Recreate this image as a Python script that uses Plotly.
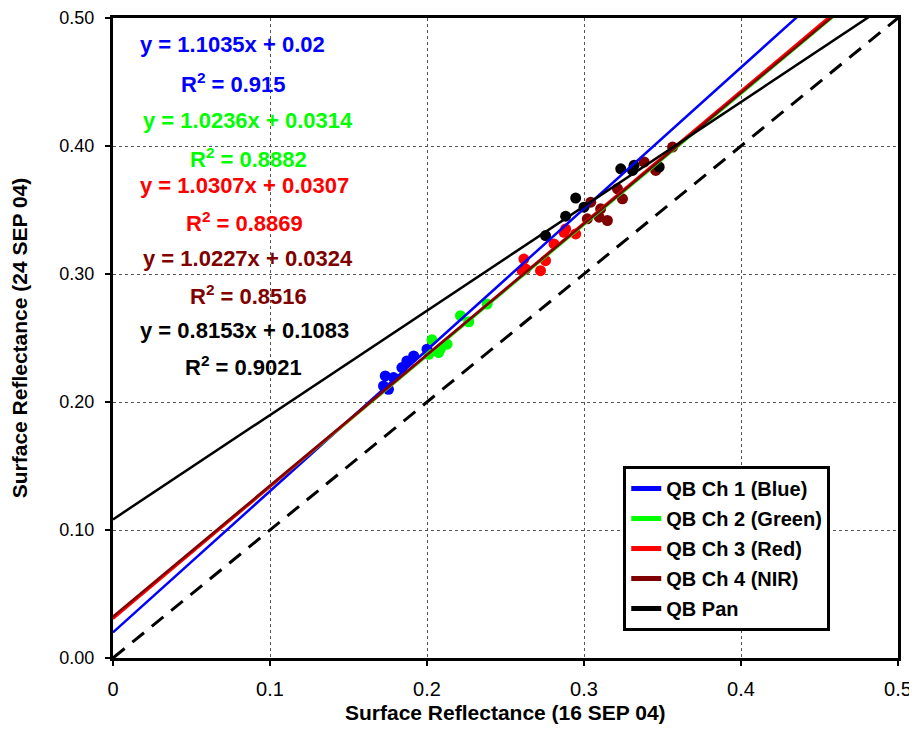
import plotly.graph_objects as go
import numpy as np

# ---- data ----
blue_x = [0.1723, 0.1734, 0.1755, 0.1787, 0.1840, 0.1872, 0.1915, 0.2000]
blue_y = [0.2125, 0.2204, 0.2099, 0.2191, 0.2269, 0.2321, 0.2360, 0.2413]

green_x = [0.2011, 0.2032, 0.2074, 0.2085, 0.2128, 0.2213, 0.2266, 0.2383]
green_y = [0.2373, 0.2486, 0.2386, 0.2413, 0.2452, 0.2674, 0.2627, 0.2765]

red_x = [0.2606, 0.2617, 0.2628, 0.2723, 0.2755, 0.2809, 0.2872, 0.2883, 0.2947]
red_y = [0.3026, 0.3117, 0.3039, 0.3026, 0.3104, 0.3235, 0.3326, 0.3352, 0.3313]

nir_x = [0.3021, 0.3043, 0.3096, 0.3106, 0.3149, 0.3213, 0.3245, 0.3383, 0.3457, 0.3564]
nir_y = [0.3431, 0.3561, 0.3444, 0.3509, 0.3418, 0.3666, 0.3587, 0.3875, 0.3809, 0.3992]

pan_x = [0.2755, 0.2883, 0.2947, 0.3000, 0.3234, 0.3309, 0.3319, 0.3479]
pan_y = [0.3300, 0.3452, 0.3593, 0.3522, 0.3822, 0.3809, 0.3849, 0.3836]

series_names = ["QB Ch 1 (Blue)", "QB Ch 2 (Green)", "QB Ch 3 (Red)", "QB Ch 4 (NIR)", "QB Pan"]
slopes = [1.1035, 1.0236, 1.0307, 1.0227, 0.8153]
intercepts = [0.02, 0.0314, 0.0307, 0.0324, 0.1083]
r2_values = ["0.915", "0.8882", "0.8869", "0.8516", "0.9021"]
eq_texts = ["y = 1.1035x + 0.02", "y = 1.0236x + 0.0314", "y = 1.0307x + 0.0307",
            "y = 1.0227x + 0.0324", "y = 0.8153x + 0.1083"]

x_ticks = [0, 0.1, 0.2, 0.3, 0.4, 0.5]
x_tick_labels = ["0", "0.1", "0.2", "0.3", "0.4", "0.5"]
y_ticks = [0, 0.1, 0.2, 0.3, 0.4, 0.5]
y_tick_labels = ["0.00", "0.10", "0.20", "0.30", "0.40", "0.50"]

x_title = "Surface Reflectance (16 SEP 04)"
y_title = "Surface Reflectance (24 SEP 04)"

colors = ["#0000FF", "#00FF00", "#FF0000", "#800000", "#000000"]
xs = [blue_x, green_x, red_x, nir_x, pan_x]
ys = [blue_y, green_y, red_y, nir_y, pan_y]

FONT = "Arial, Liberation Sans, sans-serif"

fig = go.Figure()

# scatter points
for i in range(5):
    fig.add_trace(go.Scatter(x=xs[i], y=ys[i], mode="markers",
                             marker=dict(color=colors[i], size=11, line=dict(width=0)),
                             showlegend=False, hoverinfo="x+y"))

# 1:1 dashed line
fig.add_trace(go.Scatter(x=[0, 0.5], y=[0, 0.5], mode="lines",
                         line=dict(color="black", width=3, dash="15px,10px"),
                         showlegend=False))

# regression lines
line_x = np.array([0.0, 0.5])
for i in range(5):
    fig.add_trace(go.Scatter(x=line_x, y=slopes[i] * line_x + intercepts[i], mode="lines",
                             line=dict(color=colors[i], width=2.5),
                             showlegend=False, legendgroup="g%d" % i))

# legend entries (thicker sample lines, as in the reference)
for i in range(5):
    fig.add_trace(go.Scatter(x=[None], y=[None], mode="lines",
                             line=dict(color=colors[i], width=5),
                             name="<b>" + series_names[i] + "</b>",
                             legendgroup="g%d" % i, showlegend=True))

# equation annotations
eq_pos = [(0.0764, 0.479, 0.077, 0.449),
          (0.086, 0.420, 0.086, 0.391),
          (0.084, 0.3695, 0.084, 0.3406),
          (0.086, 0.3125, 0.086, 0.2836),
          (0.084, 0.256, 0.0834, 0.228)]
for i in range(5):
    ex, ey, rx, ry = eq_pos[i]
    fig.add_annotation(x=ex, y=ey, xref="x", yref="y", text="<b>" + eq_texts[i] + "</b>",
                       showarrow=False, font=dict(family=FONT, size=22, color=colors[i]))
    fig.add_annotation(x=rx, y=ry, xref="x", yref="y",
                       text="<b>R<sup>2</sup> = " + r2_values[i] + "</b>",
                       showarrow=False, font=dict(family=FONT, size=22, color=colors[i]))

# x-axis title placed just under the tick labels, as in the reference
fig.add_annotation(x=0.5, y=-0.085, xref="paper", yref="paper", text="<b>" + x_title + "</b>",
                   showarrow=False, xanchor="center", yanchor="middle",
                   font=dict(family=FONT, size=21, color="black"))

fig.update_layout(
    width=909, height=738,
    margin=dict(l=105, r=19, t=10, b=88, autoexpand=False),
    paper_bgcolor="white", plot_bgcolor="white",
    font=dict(family=FONT, size=18, color="black"),
    showlegend=True,
    legend=dict(x=0.65, y=0.30, xanchor="left", yanchor="top",
                bgcolor="white", bordercolor="black", borderwidth=3,
                font=dict(family=FONT, size=20, color="black"),
                tracegroupgap=1),
)

fig.update_xaxes(range=[0, 0.5], tickvals=x_ticks, ticktext=x_tick_labels,
                 automargin=False,
                 showgrid=True, gridcolor="#555555", griddash="dot", gridwidth=1.3,
                 showline=True, linecolor="black", linewidth=3, mirror=True,
                 ticks="outside", ticklen=5, tickcolor="black", tickwidth=1.5,
                 ticklabelstandoff=6,
                 zeroline=False,
                 tickfont=dict(family=FONT, size=20, color="black"))
fig.update_yaxes(range=[0, 0.5], tickvals=y_ticks, ticktext=y_tick_labels,
                 automargin=False,
                 showgrid=True, gridcolor="#555555", griddash="dot", gridwidth=1.3,
                 showline=True, linecolor="black", linewidth=3, mirror=True,
                 ticks="outside", ticklen=5, tickcolor="black", tickwidth=1.5,
                 ticklabelstandoff=7,
                 zeroline=False,
                 tickfont=dict(family=FONT, size=18, color="black"),
                 title=dict(text="<b>" + y_title + "</b>",
                            font=dict(family=FONT, size=21, color="black"), standoff=29))

fig.write_html("out.html")
